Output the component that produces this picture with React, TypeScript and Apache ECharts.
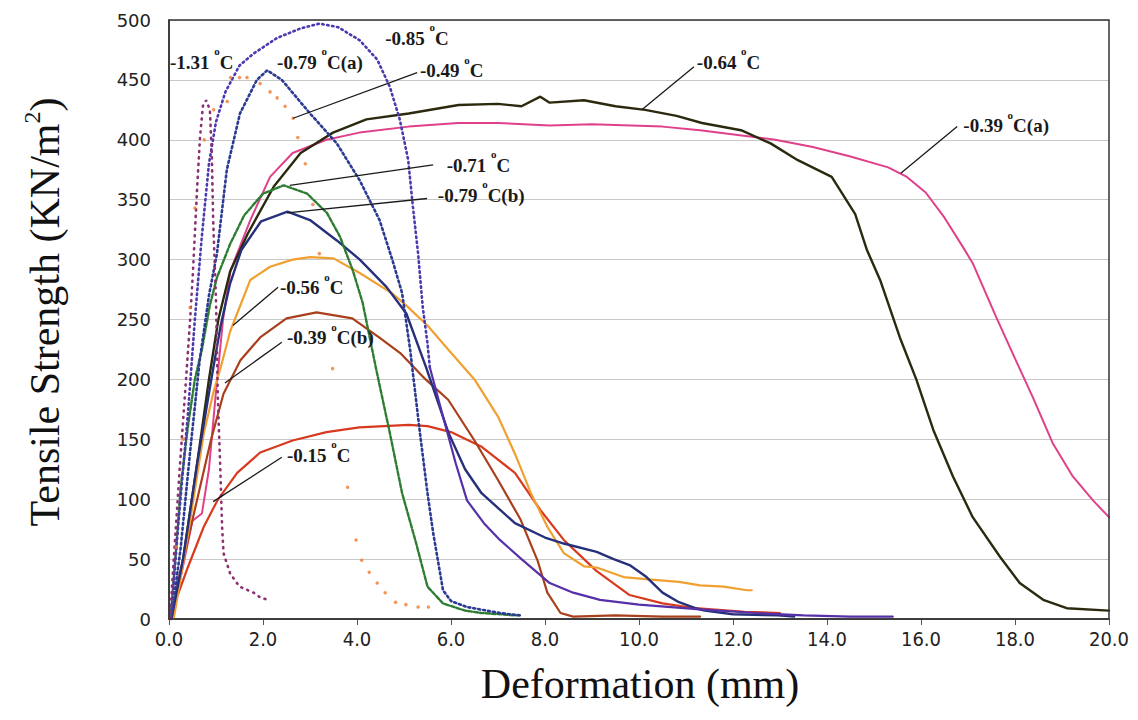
import React, { useEffect, useRef } from "react";
import * as echarts from "echarts";

// ---------- data (Deformation mm, Tensile Strength KN/m2) ----------
const s131 = [[0.02,0],[0.09,43],[0.23,127],[0.38,210],[0.45,250],[0.51,290],[0.6,361],[0.66,402],[0.72,428],[0.79,433],[0.87,425],[0.91,389],[0.94,333],[1.0,266],[1.04,183],[1.09,127],[1.13,77],[1.16,55],[1.3,38],[1.5,27],[1.8,22],[1.94,18],[2.1,16]];
const s085Rise = [[0.04,0],[0.2,80],[0.4,170],[0.55,250],[0.7,320],[0.85,380],[1.0,415],[1.2,440],[1.5,462],[1.8,472],[2.3,485],[2.8,493],[3.2,497],[3.6,494],[4.06,483],[4.43,467],[4.7,444],[4.91,417],[5.09,383],[5.19,344],[5.3,305],[5.4,260],[5.5,230],[5.55,210]];
const s085Tail = [[5.55,210],[5.83,169],[6.1,130],[6.34,99],[6.7,80],[7.04,66],[7.5,50],[8.1,30],[8.6,22],[9.17,16],[10.0,12],[11.3,8],[12.5,5],[13.5,3],[14.5,2],[15.4,2]];
const s079a = [[0.05,0],[0.25,60],[0.45,140],[0.65,215],[0.85,270],[1.02,305],[1.23,375],[1.51,422],[1.87,450],[2.09,458],[2.4,450],[3.0,422],[3.57,397],[4.06,366],[4.48,333],[4.75,300],[4.96,272],[5.13,225],[5.34,155],[5.5,105],[5.62,72],[5.83,24],[6.0,15],[6.34,10],[7.04,5],[7.47,3]];
const s071 = [[0.03,0],[0.12,43],[0.25,110],[0.4,160],[0.55,200],[0.7,225],[0.87,262],[1.02,285],[1.3,313],[1.6,337],[2.0,355],[2.44,362],[2.94,355],[3.36,339],[3.64,319],[3.91,291],[4.12,264],[4.4,210],[4.7,155],[4.96,105],[5.26,63],[5.5,27],[5.83,13],[6.3,7],[6.65,5],[7.4,3]];
const s079b = [[0.05,0],[0.3,50],[0.6,130],[0.9,200],[1.1,245],[1.3,280],[1.54,308],[1.96,332],[2.52,340],[3.0,333],[3.57,316],[4.06,300],[4.63,277],[5.05,255],[5.47,210],[5.95,155],[6.3,125],[6.65,105],[7.36,80],[8.0,68],[8.4,63],[9.1,56],[9.46,50],[9.8,45],[10.16,35],[10.5,22],[10.85,14],[11.2,9],[11.4,7],[12.0,4],[12.95,3],[13.3,2]];
const s064 = [[0.05,0],[0.3,50],[0.6,130],[0.85,200],[1.05,250],[1.3,290],[1.68,322],[2.23,361],[2.8,389],[3.49,406],[4.2,417],[5.1,422],[6.16,429],[7.0,430],[7.5,428],[7.9,436],[8.1,431],[8.83,433],[9.5,428],[10.13,425],[10.8,420],[11.34,414],[12.17,408],[12.8,397],[13.38,383],[14.1,369],[14.6,338],[14.85,308],[15.13,283],[15.55,235],[15.9,200],[16.26,158],[16.68,119],[17.1,85],[17.68,52],[18.1,30],[18.6,16],[19.1,9],[20.0,7]];
const s039a = [[0.05,0],[0.25,35],[0.5,82],[0.7,88],[0.85,125],[1.0,190],[1.15,250],[1.31,291],[1.73,333],[2.15,369],[2.63,389],[3.35,400],[4.05,406],[5.1,411],[6.15,414],[7.0,414],[8.1,412],[9.0,413],[10.5,411],[11.3,408],[12.1,404],[12.9,400],[13.7,394],[14.5,386],[15.3,377],[15.7,369],[16.1,356],[16.5,335],[16.9,310],[17.1,297],[17.6,252],[18.04,214],[18.38,185],[18.8,147],[19.23,119],[19.66,99],[20.0,85]];
const s056 = [[0.1,0],[0.4,70],[0.74,155],[0.95,190],[1.1,210],[1.3,240],[1.45,255],[1.73,283],[2.15,294],[2.63,300],[3.0,302],[3.5,301],[4.05,289],[4.74,272],[5.04,262],[5.5,245],[5.94,225],[6.5,200],[7.0,169],[7.36,138],[7.7,105],[8.05,77],[8.4,55],[8.83,44],[9.1,43],[9.67,35],[10.2,33],[10.85,31],[11.3,28],[11.8,27],[12.3,24],[12.4,24]];
const s039b = [[0.08,0],[0.19,30],[0.53,88],[0.89,149],[1.16,188],[1.52,216],[1.94,235],[2.5,251],[3.14,256],[3.9,251],[4.47,235],[4.92,222],[5.46,200],[5.94,183],[6.5,149],[7.0,116],[7.48,83],[7.84,49],[8.05,22],[8.33,5],[8.6,2],[9.5,3],[10.5,2],[11.3,2]];
const s015 = [[0.0,0],[0.4,43],[0.74,77],[1.03,99],[1.45,122],[1.94,139],[2.63,149],[3.35,156],[4.05,160],[5.1,162],[5.5,161],[6.0,156],[6.64,144],[7.36,122],[7.9,91],[8.4,66],[9.1,40],[9.8,20],[10.5,13],[11.2,9],[12.25,6],[13.0,5]];
const s049 = [[0.15,60],[0.3,150],[0.45,260],[0.55,343],[0.75,400],[0.95,425],[1.24,432],[1.31,452],[1.5,452],[1.66,452],[1.94,447],[2.15,440],[2.3,435],[2.47,428],[2.64,418],[2.74,402],[2.9,380],[3.06,346],[3.2,305],[3.48,209],[3.8,110],[3.98,66],[4.1,49],[4.26,39],[4.43,30],[4.6,22],[4.82,14],[5.04,12],[5.3,10],[5.52,10]];

// annotation labels: text before superscript "o", text after, pointer start, pointer end, label anchor
const annoPre = ["-1.31 ", "-0.79 ", "-0.85 ", "-0.49 ", "-0.64 ", "-0.39 ", "-0.71 ", "-0.79 ", "-0.56 ", "-0.39 ", "-0.15 "];
const annoPost = ["C", "C(a)", "C", "C", "C", "C(a)", "C", "C(b)", "C", "C(b)", "C"];
const annoFrom = [null, null, null, [2.64,418], [10.06,425], [15.57,372], [2.57,362], [2.51,339], [1.36,245], [1.19,197], [0.94,98]];
const annoTo = [null, null, null, [5.28,456], [11.17,461], [16.77,411], [5.62,379], [5.49,351], [2.32,277], [2.4,231], [2.4,135]];
const annoLabel = [[0.02,465], [2.3,465], [4.6,485], [5.34,458], [11.23,465], [16.9,412], [5.91,379], [5.72,354], [2.36,277], [2.51,235], [2.51,137]];

const xMin = 0, xMax = 20, xStep = 2;
const yMin = 0, yMax = 500, yStep = 50;

function lineSeries(name: string, data: number[][], color: string, width: number, type: any) {
  return {
    name, type: "line", data, showSymbol: false, smooth: false,
    lineStyle: { color, width, type, cap: "round" },
    itemStyle: { color },
    z: 3,
  };
}

const GRID = { left: 169, right: 29, top: 20, bottom: 101 };
const W = 1138, H = 720;

export default function App() {
  const ref = useRef<HTMLDivElement>(null);
  useEffect(() => {
    if (!ref.current) return;
    const chart = echarts.init(ref.current, null, { renderer: "svg" });
    const annoData = annoLabel.map((lab, i) => {
      const f = annoFrom[i];
      const t = annoTo[i];
      return [f ? f[0] : lab[0], f ? f[1] : lab[1], t ? t[0] : lab[0], t ? t[1] : lab[1], lab[0], lab[1], f ? 1 : 0, i];
    });
    const labelFont = "Liberation Serif, Times New Roman, serif";
    chart.setOption({
      animation: false,
      backgroundColor: "#ffffff",
      grid: { ...GRID, show: false },
      xAxis: {
        type: "value", min: xMin, max: xMax, interval: xStep,
        axisLine: { show: true, onZero: false, lineStyle: { color: "#333", width: 1.5 } },
        axisTick: { show: true, inside: false, length: 6, lineStyle: { color: "#555" } },
        splitLine: { show: false },
        axisLabel: { formatter: (v: number) => v.toFixed(1), fontFamily: "Liberation Sans Narrow, DejaVu Sans Condensed, sans-serif", fontSize: 20, color: "#222", margin: 10 },
      },
      yAxis: {
        type: "value", min: yMin, max: yMax, interval: yStep,
        axisLine: { show: true, onZero: false, lineStyle: { color: "#333", width: 1.5 } },
        axisTick: { show: false },
        splitLine: { show: true, lineStyle: { color: "#c8c8c8", width: 1 } },
        axisLabel: { fontFamily: "DejaVu Sans, sans-serif", fontSize: 18, color: "#222", margin: 18 },
      },
      graphic: [
        {
          type: "rect", z: 50, silent: true,
          shape: { x: GRID.left, y: GRID.top, width: W - GRID.left - GRID.right, height: H - GRID.top - GRID.bottom },
          style: { fill: "none", stroke: "#333", lineWidth: 1.5 },
        },
        {
          type: "text", x: 640, y: 684,
          style: { text: "Deformation (mm)", font: "42px Liberation Serif, Times New Roman, serif", fill: "#111", align: "center", verticalAlign: "middle" },
        },
        {
          type: "text", x: 45, y: 312, rotation: Math.PI / 2,
          style: {
            text: "{a|Tensile Strength (KN/m}{s|2}{a|)}",
            align: "center", verticalAlign: "middle",
            rich: {
              a: { fontFamily: "Liberation Serif, Times New Roman, serif", fontSize: 42, fill: "#111", lineHeight: 50 },
              s: { fontFamily: "Liberation Serif, Times New Roman, serif", fontSize: 24, fill: "#111", verticalAlign: "top", lineHeight: 22 },
            },
          },
        },
      ],
      series: [
        lineSeries("-0.39 °C(a)", s039a, "#e0408a", 2, "solid"),
        lineSeries("-0.64 °C", s064, "#2b2a0e", 2.4, "solid"),
        lineSeries("-0.15 °C", s015, "#d83a1e", 2.2, "solid"),
        lineSeries("-0.39 °C(b)", s039b, "#a8401c", 2.2, "solid"),
        lineSeries("-0.56 °C", s056, "#f0a030", 2.2, "solid"),
        lineSeries("-0.79 °C(b)", s079b, "#27307a", 2.4, "solid"),
        lineSeries("-0.71 °C", s071, "#2e7d32", 2.4, [4, 2]),
        lineSeries("-0.79 °C(a)", s079a, "#2b3a92", 2.6, [2, 3]),
        lineSeries("-0.85 °C", s085Rise, "#4a3ab0", 2.6, [1.5, 3.5]),
        lineSeries("-0.85 °C tail", s085Tail, "#5530a8", 2.2, "solid"),
        lineSeries("-1.31 °C", s131, "#8b3070", 2.6, [1, 5.5]),
        {
          name: "-0.49 °C", type: "scatter", data: s049, symbol: "circle", symbolSize: 3.5,
          itemStyle: { color: "#f07a30" }, z: 4,
        },
        {
          name: "annotations", type: "custom", coordinateSystem: "cartesian2d", data: annoData, clip: false, z: 10,
          encode: { x: [0, 2, 4], y: [1, 3, 5] },
          renderItem: (params: any, api: any) => {
            const i = api.value(7);
            const p1 = api.coord([api.value(0), api.value(1)]);
            const p2 = api.coord([api.value(2), api.value(3)]);
            const pl = api.coord([api.value(4), api.value(5)]);
            const children: any[] = [];
            if (api.value(6) === 1) {
              children.push({ type: "line", shape: { x1: p1[0], y1: p1[1], x2: p2[0], y2: p2[1] }, style: { stroke: "#1a1a1a", lineWidth: 1.3 } });
            }
            children.push({
              type: "text", x: pl[0], y: pl[1] - 3,
              style: {
                text: "{n|" + annoPre[i] + "}{s|o}{n|" + annoPost[i] + "}",
                align: "left", verticalAlign: "middle",
                rich: {
                  n: { fontFamily: labelFont, fontWeight: "bold", fontSize: 19, fill: "#1a1a1a", lineHeight: 26, verticalAlign: "bottom" },
                  s: { fontFamily: labelFont, fontWeight: "bold", fontSize: 11, fill: "#1a1a1a", verticalAlign: "top", lineHeight: 10 },
                },
              },
            });
            return { type: "group", children };
          },
        },
      ],
    });
    return () => chart.dispose();
  }, []);
  return <div ref={ref} style={{ position: "absolute", left: 0, top: 0, width: W, height: H }} />;
}
